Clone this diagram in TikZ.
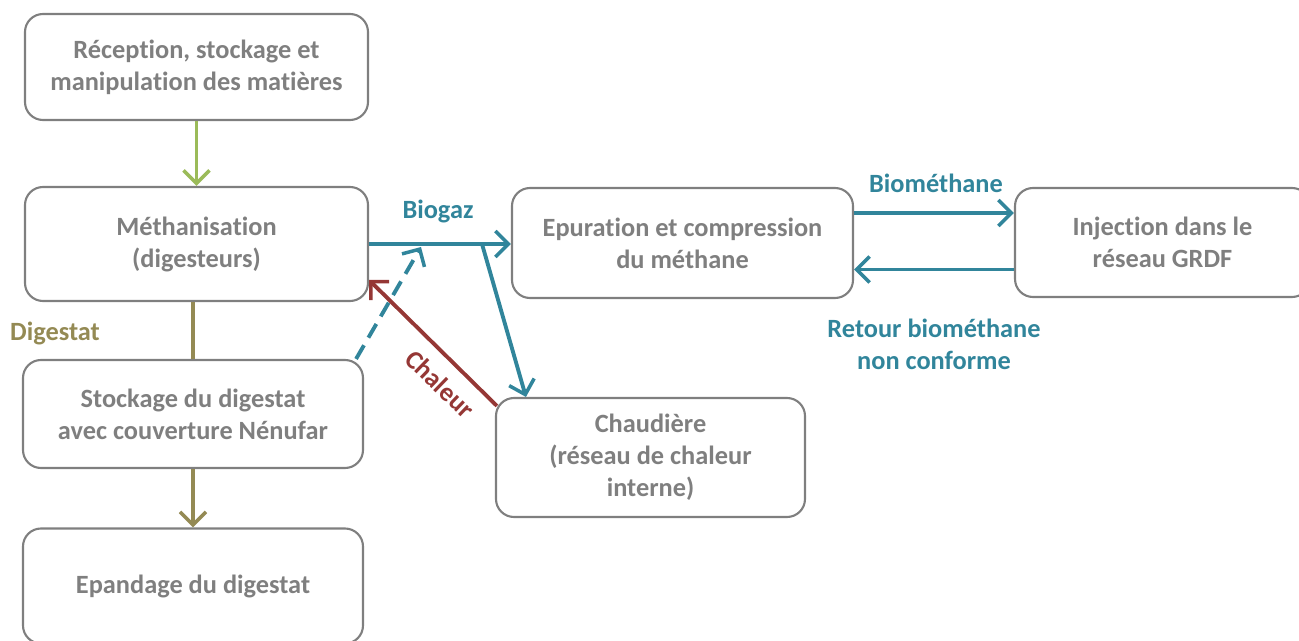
\documentclass[tikz,border=0pt]{standalone}
\usepackage{fontspec}
\setmainfont{Carlito}[Ligatures=NoCommon]
\usetikzlibrary{arrows.meta}

\definecolor{boxgray}{RGB}{127,127,127}
\definecolor{gazteal}{RGB}{49,133,155}
\definecolor{heatred}{RGB}{149,55,53}
\definecolor{digolive}{RGB}{148,138,84}
\definecolor{feedgreen}{RGB}{155,187,89}

\begin{document}
\begin{tikzpicture}[
  etape/.style={draw=boxgray, line width=1.2pt, rounded corners=0.36cm, align=center,
    text=boxgray, font=\fontsize{15}{18.2}\selectfont\bfseries, inner sep=0pt},
  fleche/.style={line width=2.2pt, -{Straight Barb[length=2.6mm,width=5.2mm,line width=2pt]}},
  lbl/.style={font=\fontsize{15}{18.2}\selectfont\bfseries, align=center}
]
\path[use as bounding box, clip] (0,0) rectangle (25.98,-12.82);

% les etapes
\node[etape, minimum width=6.86cm, minimum height=2.12cm] (rec) at (3.93,-1.34) {Réception, stockage et\\manipulation des matières};
\node[etape, minimum width=6.86cm, minimum height=2.28cm] (meth) at (3.93,-4.88) {Méthanisation\\(digesteurs)};
\node[etape, minimum width=6.8cm, minimum height=2.16cm] (stock) at (3.86,-8.28) {Stockage du digestat\\avec couverture Nénufar};
\node[etape, minimum width=6.8cm, minimum height=2.3cm] (epand) at (3.86,-11.72) {Epandage du digestat};
\node[etape, minimum width=6.82cm, minimum height=2.2cm] (epur) at (13.65,-4.86) {Epuration et compression\\du méthane};
\node[etape, minimum width=5.9cm, minimum height=2.18cm] (inj) at (23.25,-4.85) {Injection dans le\\réseau GRDF};
\node[etape, minimum width=6.18cm, minimum height=2.38cm] (chaud) at (13.01,-9.15) {Chaudière\\(réseau de chaleur\\interne)};

% matieres
\draw[fleche, feedgreen] (rec) -- (meth);

% digestat
\draw[digolive, line width=2.2pt] (stock.north |- meth.south) -- (stock.north);
\draw[fleche, digolive] (stock) -- (epand);
\node[lbl, text=digolive] (digestat) at (1.1,-6.66) {Digestat};

% biogaz
\coordinate (split) at (9.64,-4.88);
\coordinate (dashend) at (8.42,-4.94);
\draw[fleche, gazteal] (meth.east) -- (meth.east -| epur.west);
\draw[fleche, gazteal] (split) -- ([xshift=0.62cm]chaud.north west);
\draw[fleche, gazteal, dashed, dash pattern=on 9pt off 5pt] ([xshift=-0.16cm]stock.north east) -- (dashend);
\node[lbl, text=gazteal] (biogaz) at (8.76,-4.22) {Biogaz};

% chaleur
\draw[fleche, heatred] ([shift={(0.04,-0.18)}]chaud.north west) -- ([yshift=-0.72cm]meth.east);
\node[lbl, text=heatred, rotate=-44] (chaleur) at (8.8,-7.68) {Chaleur};

% biomethane
\draw[fleche, gazteal] ([yshift=0.6cm]epur.east) -- ([yshift=0.6cm]epur.east -| inj.west);
\draw[fleche, gazteal] ([yshift=-0.54cm]inj.west) -- ([yshift=-0.54cm]inj.west -| epur.east);
\node[lbl, text=gazteal] (biomethane) at (18.72,-3.66) {Biométhane};
\node[lbl, text=gazteal] (retour) at (18.68,-6.88) {Retour biométhane\\non conforme};
\end{tikzpicture}
\end{document}
